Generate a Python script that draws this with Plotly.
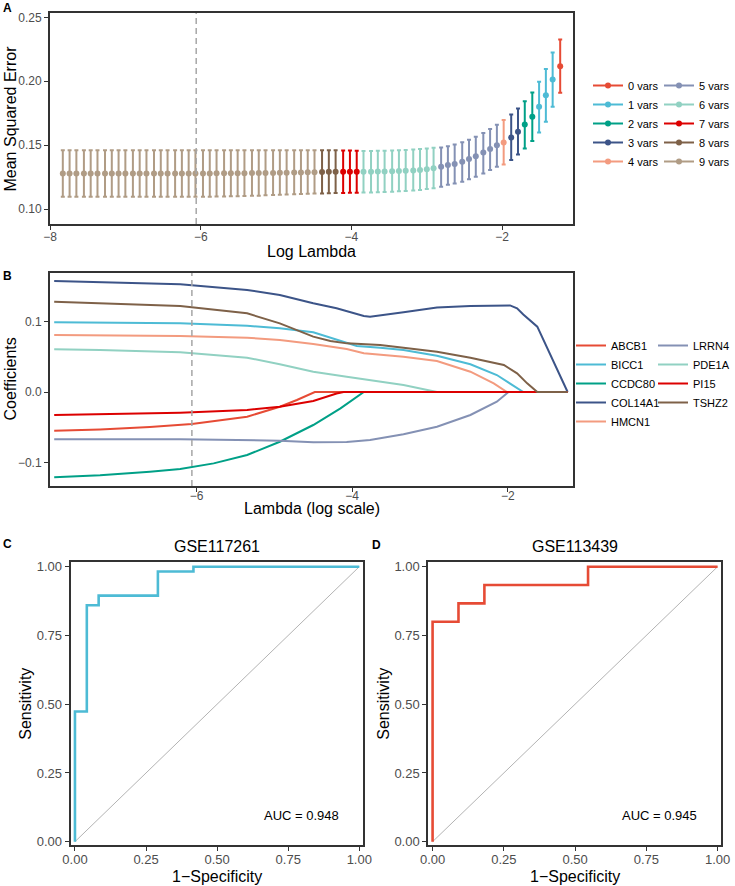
import plotly.graph_objects as go

W, H = 735, 886

# ---- panel A: cross-validation curve ----
log_lambda = [
    -7.83, -7.74, -7.65, -7.55, -7.46, -7.37, -7.27, -7.18, -7.09, -7.00,
    -6.90, -6.81, -6.72, -6.62, -6.53, -6.44, -6.34, -6.25, -6.16, -6.07,
    -5.97, -5.88, -5.79, -5.69, -5.60, -5.51, -5.42, -5.32, -5.23, -5.14,
    -5.04, -4.95, -4.86, -4.76, -4.67, -4.58, -4.49, -4.39, -4.30, -4.21,
    -4.11, -4.02, -3.93, -3.84, -3.74, -3.65, -3.56, -3.46, -3.37, -3.28,
    -3.18, -3.09, -3.00, -2.91, -2.81, -2.72, -2.63, -2.53, -2.44, -2.35,
    -2.25, -2.16, -2.07, -1.98, -1.88, -1.79, -1.70, -1.60, -1.51, -1.42,
    -1.33, -1.23,
]
n_vars = [9] * 37 + [8] * 3 + [7] * 3 + [6] * 11 + [5] * 9 + [4] + [3] * 2 + [2] * 2 + [1] * 3 + [0]
mse_mean = [
    0.1279, 0.1279, 0.1279, 0.1279, 0.1279, 0.1279, 0.1279, 0.1279, 0.1279, 0.1279,
    0.1279, 0.1279, 0.1279, 0.1279, 0.1279, 0.1279, 0.1279, 0.1279, 0.1279, 0.1279,
    0.1279, 0.1279, 0.1280, 0.1280, 0.1280, 0.1281, 0.1281, 0.1282, 0.1282, 0.1283,
    0.1283, 0.1284, 0.1284, 0.1285, 0.1286, 0.1287, 0.1288, 0.1290, 0.1291, 0.1292,
    0.1292, 0.1292, 0.1292, 0.1292, 0.1292, 0.1293, 0.1294, 0.1295, 0.1297, 0.1299,
    0.1302, 0.1306, 0.1312, 0.1320, 0.1331, 0.1344, 0.1352, 0.1370, 0.1391, 0.1414,
    0.1443, 0.1469, 0.1500, 0.1521, 0.1560, 0.1605, 0.1662, 0.1722, 0.1800, 0.1891,
    0.2014, 0.2118,
]
mse_upper = [
    0.1461, 0.1461, 0.1461, 0.1461, 0.1461, 0.1461, 0.1461, 0.1461, 0.1461, 0.1461,
    0.1461, 0.1461, 0.1461, 0.1461, 0.1461, 0.1461, 0.1461, 0.1461, 0.1461, 0.1461,
    0.1461, 0.1461, 0.1461, 0.1461, 0.1461, 0.1461, 0.1461, 0.1461, 0.1461, 0.1461,
    0.1461, 0.1461, 0.1461, 0.1461, 0.1461, 0.1461, 0.1461, 0.1461, 0.1461, 0.1460,
    0.1459, 0.1458, 0.1457, 0.1455, 0.1455, 0.1456, 0.1457, 0.1458, 0.1460, 0.1462,
    0.1465, 0.1469, 0.1474, 0.1480, 0.1482, 0.1492, 0.1505, 0.1522, 0.1542, 0.1566,
    0.1595, 0.1627, 0.1660, 0.1696, 0.1740, 0.1787, 0.1844, 0.1912, 0.1996, 0.2095,
    0.2225, 0.2327,
]
mse_lower = [
    0.1096, 0.1096, 0.1096, 0.1096, 0.1096, 0.1096, 0.1096, 0.1096, 0.1096, 0.1096,
    0.1096, 0.1096, 0.1096, 0.1096, 0.1096, 0.1096, 0.1096, 0.1096, 0.1096, 0.1096,
    0.1096, 0.1097, 0.1098, 0.1099, 0.1100, 0.1101, 0.1102, 0.1104, 0.1105, 0.1107,
    0.1109, 0.1111, 0.1113, 0.1115, 0.1117, 0.1119, 0.1121, 0.1122, 0.1124, 0.1125,
    0.1126, 0.1127, 0.1128, 0.1129, 0.1130, 0.1132, 0.1134, 0.1136, 0.1139, 0.1142,
    0.1146, 0.1150, 0.1156, 0.1162, 0.1174, 0.1190, 0.1200, 0.1214, 0.1234, 0.1253,
    0.1279, 0.1305, 0.1331, 0.1349, 0.1383, 0.1427, 0.1474, 0.1532, 0.1599, 0.1683,
    0.1800, 0.1910,
]
lambda_min = -6.06

# ---- panel B: coefficient paths (log lambda, coefficient) ----
ABCB1_L = [-7.83, -7.24, -6.60, -6.21, -6.06, -5.35, -4.93, -4.71, -4.48, -1.23]
ABCB1_C = [-0.0549, -0.0530, -0.0495, -0.0468, -0.0454, -0.0350, -0.0208, -0.0113, 0, 0]
BICC1_L = [-7.83, -6.21, -5.35, -4.93, -4.50, -4.20, -3.94, -3.64, -3.34, -2.91, -2.48, -2.14, -1.97, -1.80, -1.23]
BICC1_C = [0.0989, 0.0974, 0.0940, 0.0903, 0.0847, 0.0738, 0.0652, 0.0629, 0.0596, 0.0515, 0.0393, 0.0241, 0.0123, 0, 0]
CCDC80_L = [-7.83, -7.24, -6.60, -6.21, -5.78, -5.35, -4.93, -4.50, -4.15, -3.85, -1.23]
CCDC80_C = [-0.1210, -0.1180, -0.1130, -0.1092, -0.1012, -0.0894, -0.0705, -0.0468, -0.0231, 0, 0]
COL14A1_L = [-7.83, -6.21, -5.35, -4.93, -4.50, -4.20, -3.85, -3.77, -3.34, -2.91, -2.48, -2.01, -1.97, -1.88, -1.80, -1.62, -1.23]
COL14A1_C = [0.1574, 0.1527, 0.1447, 0.1376, 0.1258, 0.1187, 0.1078, 0.1069, 0.1130, 0.1200, 0.1220, 0.1234, 0.1228, 0.1187, 0.1100, 0.0927, 0]
HMCN1_L = [-7.83, -6.21, -5.35, -4.93, -4.50, -4.07, -3.85, -3.64, -3.34, -2.91, -2.48, -2.18, -2.01, -1.23]
HMCN1_C = [0.0809, 0.0794, 0.0771, 0.0738, 0.0681, 0.0610, 0.0549, 0.0525, 0.0501, 0.0440, 0.0288, 0.0123, 0, 0]
LRRN4_L = [-7.83, -6.21, -4.93, -4.50, -4.07, -3.77, -3.34, -2.91, -2.48, -2.14, -1.99, -1.23]
LRRN4_C = [-0.0671, -0.0671, -0.0690, -0.0714, -0.0709, -0.0681, -0.0600, -0.0492, -0.0326, -0.0137, 0, 0]
PDE1A_L = [-7.83, -7.24, -6.21, -5.35, -4.93, -4.50, -4.07, -3.64, -3.34, -2.91, -1.23]
PDE1A_C = [0.0605, 0.0595, 0.0563, 0.0487, 0.0393, 0.0288, 0.0217, 0.0146, 0.0099, 0, 0]
PI15_L = [-7.83, -6.21, -5.35, -4.93, -4.50, -4.20, -4.11, -1.23]
PI15_C = [-0.0326, -0.0293, -0.0255, -0.0208, -0.0128, -0.0020, 0, 0]
TSHZ2_L = [-7.83, -6.21, -5.35, -4.93, -4.50, -4.28, -4.07, -3.64, -3.34, -2.91, -2.48, -2.05, -1.88, -1.75, -1.62, -1.23]
TSHZ2_C = [0.1280, 0.1220, 0.1116, 0.0974, 0.0785, 0.0723, 0.0690, 0.0667, 0.0629, 0.0572, 0.0487, 0.0383, 0.0265, 0.0123, 0, 0]

# ---- panels C/D: ROC curves ----
roc_c_fpr = [0, 0, 0.0417, 0.0417, 0.0833, 0.0833, 0.2917, 0.2917, 0.4167, 0.4167, 1]
roc_c_tpr = [0, 0.4737, 0.4737, 0.8596, 0.8596, 0.8947, 0.8947, 0.9825, 0.9825, 1, 1]
roc_d_fpr = [0, 0, 0.0909, 0.0909, 0.1818, 0.1818, 0.5455, 0.5455, 1]
roc_d_tpr = [0, 0.8, 0.8, 0.8667, 0.8667, 0.9333, 0.9333, 1, 1]
auc_c = 0.948
auc_d = 0.945

npg = ['#E64B35', '#4DBBD5', '#00A087', '#3C5488', '#F39B7F',
       '#8491B4', '#91D1C2', '#DC0000', '#7E6148', '#B09C85']
FONT = 'Liberation Sans, Arial, sans-serif'


def px_x(p):
    return p / W


def px_y(p):
    return 1 - p / H


fig = go.Figure()

# A: points with error bars, one trace per variable count
for k in range(10):
    idx = [i for i, v in enumerate(n_vars) if v == k]
    xs = [log_lambda[i] for i in idx]
    ys = [mse_mean[i] for i in idx]
    up = [mse_upper[i] - mse_mean[i] for i in idx]
    dn = [mse_mean[i] - mse_lower[i] for i in idx]
    fig.add_trace(go.Scatter(
        x=xs, y=ys, mode='markers', xaxis='x', yaxis='y', showlegend=False,
        marker=dict(color=npg[k], size=6),
        error_y=dict(type='data', symmetric=False, array=up, arrayminus=dn,
                     color=npg[k], thickness=2, width=2),
    ))
for k in range(10):
    fig.add_trace(go.Scatter(
        x=[None], y=[None], mode='lines+markers', xaxis='x', yaxis='y',
        name=f'{k} vars', legend='legend' if k < 5 else 'legend2',
        line=dict(color=npg[k], width=2), marker=dict(color=npg[k], size=6),
    ))

# B: coefficient paths
genes = [
    ('ABCB1', ABCB1_L, ABCB1_C), ('BICC1', BICC1_L, BICC1_C),
    ('CCDC80', CCDC80_L, CCDC80_C), ('COL14A1', COL14A1_L, COL14A1_C),
    ('HMCN1', HMCN1_L, HMCN1_C), ('LRRN4', LRRN4_L, LRRN4_C),
    ('PDE1A', PDE1A_L, PDE1A_C), ('PI15', PI15_L, PI15_C),
    ('TSHZ2', TSHZ2_L, TSHZ2_C),
]
for j, (name, lx, cy) in enumerate(genes):
    fig.add_trace(go.Scatter(
        x=lx, y=cy, mode='lines', name=name, xaxis='x2', yaxis='y2',
        legend='legend3' if j < 5 else 'legend4',
        line=dict(color=npg[j], width=2),
    ))

# C/D: ROC
for ax, fpr, tpr, col in [('3', roc_c_fpr, roc_c_tpr, '#4DBBD5'),
                          ('4', roc_d_fpr, roc_d_tpr, '#E64B35')]:
    fig.add_trace(go.Scatter(x=[0, 1], y=[0, 1], mode='lines', showlegend=False,
                             xaxis='x' + ax, yaxis='y' + ax,
                             line=dict(color='#B3B3B3', width=1)))
    fig.add_trace(go.Scatter(x=fpr, y=tpr, mode='lines', showlegend=False,
                             xaxis='x' + ax, yaxis='y' + ax,
                             line=dict(color=col, width=2.6)))

axis_common = dict(
    showline=True, linecolor='#333333', linewidth=2, mirror=True,
    ticks='outside', ticklen=4, tickwidth=1, tickcolor='#333333',
    showgrid=False, zeroline=False, automargin=False,
)
tf12 = dict(size=12, color='#4D4D4D', family=FONT)
tf13 = dict(size=13, color='#4D4D4D', family=FONT)

fig.update_layout(
    width=W, height=H, margin=dict(l=0, r=0, t=0, b=0),
    paper_bgcolor='white', plot_bgcolor='white',
    font=dict(family=FONT, color='black'),
    xaxis=dict(axis_common, domain=[px_x(50), px_x(573)], range=[-8.0, -1.06],
               tickvals=[-8, -6, -4, -2], tickfont=tf12, anchor='y', ticklabelstandoff=-3),
    yaxis=dict(axis_common, domain=[px_y(224), px_y(13)], range=[0.0883, 0.2534],
               tickvals=[0.10, 0.15, 0.20, 0.25], tickformat='.2f', tickfont=tf12, anchor='x'),
    xaxis2=dict(axis_common, domain=[px_x(50), px_x(573)], range=[-7.884, -1.161],
                tickvals=[-6, -4, -2], tickfont=tf12, anchor='y2', ticklabelstandoff=-6),
    yaxis2=dict(axis_common, domain=[px_y(486), px_y(273)], range=[-0.1333, 0.1688],
                tickvals=[-0.1, 0.0, 0.1], tickformat='.1f', tickfont=tf12, anchor='x2'),
    xaxis3=dict(axis_common, domain=[px_x(70.7), px_x(362.7)], range=[-0.015, 1.012],
                tickvals=[0, 0.25, 0.5, 0.75, 1], tickformat='.2f', tickfont=tf13, anchor='y3',
                ticklabelstandoff=-3),
    yaxis3=dict(axis_common, domain=[px_y(845), px_y(562.3)], range=[-0.012, 1.016],
                tickvals=[0, 0.25, 0.5, 0.75, 1], tickformat='.2f', tickfont=tf13, anchor='x3'),
    xaxis4=dict(axis_common, domain=[px_x(428.3), px_x(721)], range=[-0.015, 1.012],
                tickvals=[0, 0.25, 0.5, 0.75, 1], tickformat='.2f', tickfont=tf13, anchor='y4',
                ticklabelstandoff=-3),
    yaxis4=dict(axis_common, domain=[px_y(845), px_y(562.3)], range=[-0.012, 1.016],
                tickvals=[0, 0.25, 0.5, 0.75, 1], tickformat='.2f', tickfont=tf13, anchor='x4'),
)

leg = dict(yanchor='top', bgcolor='rgba(0,0,0,0)',
           font=dict(size=11, color='black', family=FONT), traceorder='normal')
fig.update_layout(
    legend=dict(leg, xanchor='left', x=px_x(588), y=px_y(71)),
    legend2=dict(leg, xanchor='right', x=1.0, y=px_y(71)),
    legend3=dict(leg, xanchor='left', x=px_x(571), y=px_y(331)),
    legend4=dict(leg, xanchor='right', x=1.0, y=px_y(331)),
)

# dashed lambda.min lines
for ya, xa in [('y', 'x'), ('y2', 'x2')]:
    fig.add_shape(type='line', xref=xa, yref=ya + ' domain', x0=lambda_min, x1=lambda_min,
                  y0=0, y1=1, line=dict(color='#A6A6A6', width=1.5, dash='6px,4px'))

ann = []


def text(x, y, s, size, angle=0, bold=False, color='black'):
    ann.append(dict(x=px_x(x), y=px_y(y), xref='paper', yref='paper', text=f'<b>{s}</b>' if bold else s,
                    showarrow=False, textangle=angle, xanchor='center', yanchor='middle',
                    font=dict(size=size, color=color, family=FONT)))


text(311.5, 251, 'Log Lambda', 16)
text(10, 118.5, 'Mean Squared Error', 16, angle=-90)
text(311.5, 508, 'Lambda (log scale)', 16)
text(10, 379.5, 'Coefficients', 16, angle=-90)
text(216.7, 876, '1−Specificity', 16)
text(26, 703.7, 'Sensitivity', 16, angle=-90)
text(575, 876, '1−Specificity', 16)
text(384, 703.7, 'Sensitivity', 16, angle=-90)
text(216.7, 546.7, 'GSE117261', 16)
text(575, 546.7, 'GSE113439', 16)
text(8, 8, 'A', 12, bold=True)
text(8, 276, 'B', 12, bold=True)
text(8, 544, 'C', 12, bold=True)
text(376, 545, 'D', 12, bold=True)

for xa, ya, auc in [('x3', 'y3', auc_c), ('x4', 'y4', auc_d)]:
    ann.append(dict(x=0.797, y=0.097, xref=xa, yref=ya, text=f'AUC = {auc:.3f}', showarrow=False,
                    xanchor='center', yanchor='middle', font=dict(size=13, color='black', family=FONT)))

fig.update_layout(annotations=ann)
fig.write_html('out.html', config={'displayModeBar': False},
               post_script="document.body.style.margin='0px';")
